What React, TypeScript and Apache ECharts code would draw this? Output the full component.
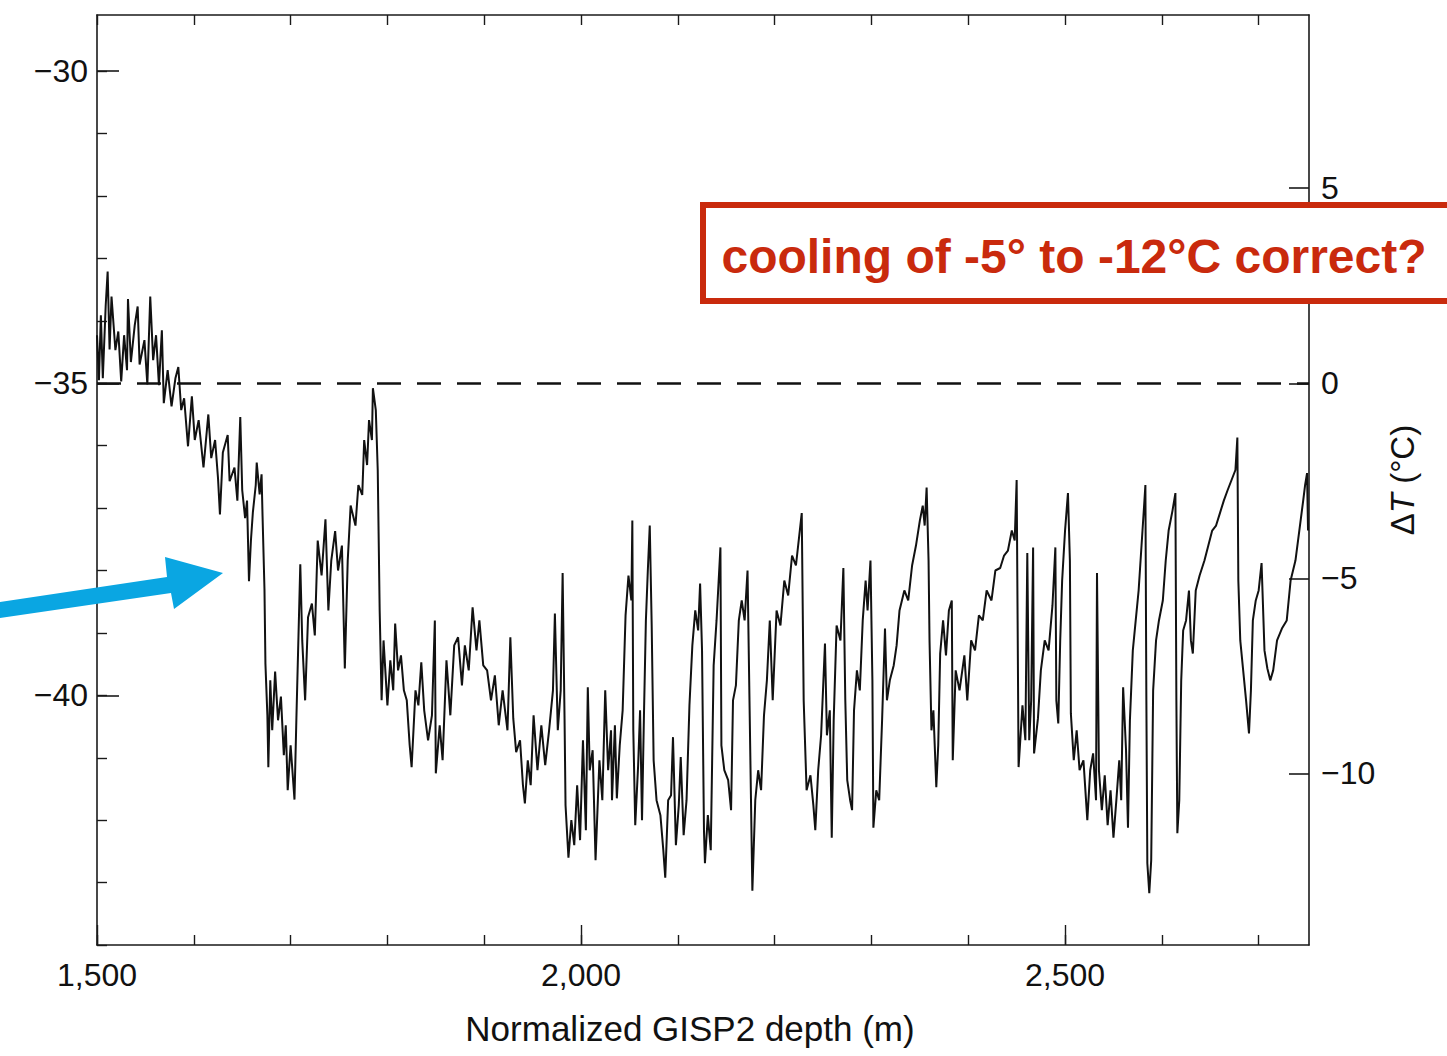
import React, { useEffect, useRef } from "react";
import * as echarts from "echarts";

// Normalized GISP2 depth (m)
const depth = [
  1500, 1502, 1504, 1506, 1509, 1511, 1513, 1515, 1519, 1522, 1525, 1528, 1531, 1532, 1535, 1539, 1542, 1544, 1549, 1552,
  1555, 1558, 1561, 1564, 1567, 1569, 1573, 1577, 1581, 1584, 1587, 1590, 1594, 1598, 1601, 1605, 1610, 1615, 1618, 1622,
  1625, 1627, 1630, 1635, 1637, 1642, 1645, 1648, 1650, 1653, 1655, 1657, 1659, 1661, 1664, 1665, 1668, 1670, 1671, 1673,
  1674, 1676, 1677, 1679, 1681, 1684, 1687, 1690, 1693, 1695, 1697, 1700, 1704, 1706, 1710, 1712, 1715, 1718, 1722, 1725,
  1728, 1732, 1736, 1739, 1742, 1746, 1749, 1753, 1756, 1759, 1762, 1767, 1770, 1774, 1776, 1779, 1781, 1784, 1785, 1788,
  1790, 1792, 1794, 1796, 1800, 1803, 1806, 1808, 1811, 1814, 1817, 1820, 1823, 1825, 1829, 1832, 1835, 1838, 1842, 1846,
  1849, 1850, 1854, 1857, 1861, 1865, 1869, 1873, 1877, 1880, 1884, 1888, 1892, 1895, 1899, 1903, 1907, 1911, 1915, 1919,
  1924, 1927, 1930, 1933, 1937, 1940, 1942, 1945, 1948, 1951, 1955, 1959, 1963, 1967, 1971, 1973, 1976, 1979, 1981, 1983,
  1984, 1987, 1990, 1993, 1996, 1999, 2002, 2005, 2007, 2009, 2012, 2015, 2019, 2022, 2025, 2028, 2031, 2032, 2035, 2037,
  2040, 2043, 2046, 2049, 2052, 2053, 2054, 2056, 2059, 2061, 2063, 2065, 2067, 2069, 2071, 2073, 2075, 2078, 2082, 2085,
  2087, 2090, 2093, 2095, 2098, 2101, 2103, 2106, 2109, 2112, 2115, 2118, 2121, 2123, 2125, 2127, 2128, 2131, 2134, 2137,
  2140, 2144, 2145, 2148, 2152, 2155, 2157, 2160, 2163, 2166, 2169, 2172, 2175, 2177, 2180, 2183, 2186, 2189, 2192, 2195,
  2198, 2202, 2206, 2210, 2214, 2218, 2222, 2226, 2228, 2230, 2233, 2237, 2240, 2242, 2245, 2248, 2252, 2254, 2257, 2259,
  2261, 2264, 2268, 2271, 2273, 2275, 2278, 2280, 2282, 2285, 2288, 2291, 2294, 2296, 2299, 2301, 2302, 2305, 2308, 2311,
  2314, 2316, 2319, 2323, 2326, 2329, 2334, 2338, 2342, 2346, 2350, 2353, 2355, 2357, 2359, 2360, 2362, 2364, 2367, 2369,
  2371, 2374, 2377, 2380, 2383, 2384, 2387, 2391, 2396, 2399, 2403, 2407, 2411, 2415, 2419, 2424, 2428, 2433, 2437, 2441,
  2445, 2448, 2450, 2451, 2452, 2456, 2459, 2461, 2463, 2465, 2467, 2468, 2472, 2475, 2479, 2483, 2487, 2490, 2491, 2493,
  2495, 2497, 2500, 2503, 2505, 2506, 2509, 2512, 2515, 2519, 2523, 2526, 2529, 2532, 2533, 2535, 2538, 2541, 2544, 2547,
  2550, 2553, 2556, 2558, 2560, 2563, 2565, 2567, 2570, 2573, 2576, 2580, 2582, 2583, 2584, 2585, 2587, 2589, 2591, 2594,
  2597, 2601, 2604, 2607, 2611, 2614, 2615, 2616, 2618, 2620, 2622, 2625, 2628, 2630, 2632, 2635, 2639, 2644, 2648, 2652,
  2656, 2660, 2664, 2668, 2672, 2676, 2678, 2679, 2681, 2684, 2687, 2690, 2692, 2694, 2697, 2700, 2703, 2706, 2709, 2712,
  2715, 2719, 2724, 2729, 2733, 2738, 2742, 2746, 2748, 2750, 2751,
];

// delta 18O (per mil)
const d18O = [
  -34.23, -34.95, -33.91, -34.92, -33.75, -33.21, -34.46, -33.61, -34.47, -34.17, -34.97, -34.23, -34.79, -33.65, -34.66, -34.07, -33.77, -34.70, -34.31, -35.02,
  -33.61, -34.63, -34.23, -35.03, -34.15, -35.32, -34.79, -35.37, -34.92, -34.74, -35.43, -35.24, -36.01, -35.21, -35.91, -35.59, -36.35, -35.50, -36.20, -35.91,
  -36.52, -37.10, -36.11, -35.83, -36.57, -36.35, -36.88, -35.54, -36.71, -37.16, -36.88, -38.17, -37.52, -37.07, -36.63, -36.27, -36.78, -36.46, -37.12, -38.30,
  -39.50, -40.32, -41.15, -39.76, -40.56, -39.62, -40.40, -40.02, -40.96, -40.48, -41.52, -40.80, -41.67, -40.35, -37.90, -39.12, -40.08, -38.75, -38.53, -39.04,
  -37.52, -38.08, -37.18, -38.64, -37.84, -37.37, -38.00, -37.60, -39.57, -37.84, -36.96, -37.28, -36.63, -36.79, -35.91, -36.31, -35.59, -35.91, -35.08, -35.43,
  -36.39, -38.64, -40.08, -39.12, -40.16, -39.44, -39.92, -38.85, -39.60, -39.36, -39.92, -40.08, -40.80, -41.15, -39.92, -40.16, -39.47, -40.24, -40.72, -40.32,
  -38.80, -41.25, -40.48, -41.04, -39.44, -40.32, -39.20, -39.07, -39.84, -39.20, -39.60, -38.59, -39.28, -38.80, -39.52, -39.60, -40.08, -39.68, -40.48, -39.92,
  -40.56, -39.07, -40.37, -40.91, -40.72, -41.44, -41.73, -41.04, -41.44, -40.32, -41.20, -40.48, -41.12, -40.56, -39.92, -38.69, -40.56, -39.92, -38.04, -40.40,
  -41.76, -42.60, -42.00, -42.40, -41.44, -42.32, -40.72, -42.16, -39.87, -41.20, -40.88, -42.64, -41.04, -41.68, -39.92, -41.20, -40.56, -41.68, -40.48, -41.65,
  -40.80, -40.24, -38.72, -38.08, -38.48, -37.20, -40.56, -42.08, -41.12, -40.24, -42.00, -40.32, -38.80, -38.00, -37.28, -38.88, -41.04, -41.68, -41.92, -42.48,
  -42.92, -41.68, -41.60, -40.67, -42.40, -41.76, -40.99, -42.24, -41.68, -40.16, -39.20, -38.64, -38.96, -38.21, -39.28, -42.16, -42.69, -41.92, -42.48, -39.52,
  -38.80, -37.63, -40.80, -41.20, -41.36, -41.84, -40.08, -39.84, -38.80, -38.48, -38.80, -38.00, -41.09, -43.13, -41.68, -41.20, -41.52, -40.32, -39.76, -38.80,
  -40.08, -38.64, -38.88, -38.16, -38.40, -37.76, -37.92, -37.36, -37.08, -40.08, -41.52, -41.28, -41.76, -42.16, -41.20, -40.64, -39.17, -40.64, -40.24, -42.28,
  -40.40, -38.88, -39.12, -37.96, -40.08, -41.36, -41.68, -41.84, -40.24, -39.60, -39.92, -38.80, -38.16, -38.64, -37.84, -39.76, -42.12, -41.52, -41.68, -40.40,
  -38.93, -40.08, -39.76, -39.52, -39.20, -38.64, -38.32, -38.48, -37.92, -37.60, -37.20, -36.96, -37.28, -36.67, -37.84, -39.12, -40.56, -40.24, -41.47, -40.80,
  -39.33, -38.80, -39.36, -38.64, -38.48, -41.04, -39.60, -39.92, -39.36, -40.08, -39.12, -39.28, -38.72, -38.80, -38.32, -38.48, -38.00, -37.96, -37.76, -37.68,
  -37.36, -37.52, -36.55, -38.80, -41.15, -40.16, -40.72, -37.72, -40.72, -40.08, -37.63, -40.93, -40.37, -39.60, -39.12, -39.28, -38.56, -37.63, -40.08, -40.45,
  -39.12, -38.16, -37.36, -36.76, -37.84, -40.29, -41.04, -40.56, -41.20, -41.04, -42.00, -41.20, -40.93, -41.68, -38.04, -41.20, -41.84, -41.28, -42.08, -41.52,
  -42.28, -41.68, -41.04, -41.68, -39.87, -40.88, -42.12, -40.40, -39.28, -38.80, -38.32, -37.36, -36.88, -36.63, -40.08, -42.69, -43.17, -42.64, -39.92, -39.12,
  -38.80, -38.48, -37.84, -37.36, -37.04, -36.76, -40.08, -42.21, -41.68, -39.76, -38.96, -38.80, -38.32, -39.12, -39.33, -38.32, -38.08, -37.84, -37.60, -37.36,
  -37.28, -37.08, -36.88, -36.71, -36.55, -36.39, -35.87, -38.16, -39.12, -39.60, -40.08, -40.61, -39.92, -38.80, -38.48, -38.32, -37.88, -39.28, -39.57, -39.76,
  -39.60, -39.12, -38.93, -38.80, -38.16, -37.84, -37.36, -36.88, -36.63, -36.44, -37.36,
];

const leftMajorTicks = [-30, -35, -40];
const leftMinorTicks = [-44, -43, -42, -41, -40, -39, -38, -37, -36, -35, -34, -33, -32, -31, -30];
const rightTicks = [5, 0, -5, -10];
const xMinorTicks = [1500, 1600, 1700, 1800, 1900, 2000, 2100, 2200, 2300, 2400, 2500, 2600, 2700];
const xMajorTicks = [1500, 2000, 2500];
const zeroLine = -35;

const FONT = "'Liberation Sans', Arial, Helvetica, sans-serif";
const RED = "#c92a0d";
const BLUE = "#0aa6e2";
const AXIS = "#1a1a1a";

const minusFmt = (v: number) => (v < 0 ? "\u2212" + Math.abs(v) : String(v));

export default function App() {
  const ref = useRef<HTMLDivElement>(null);

  useEffect(() => {
    if (!ref.current) return;
    const chart = echarts.init(ref.current, undefined, { renderer: "svg" });
    const seriesData = depth.map((d, i) => [d, d18O[i]]);

    const xBase = { type: "value", min: 1500, max: 2752, gridIndex: 0 } as any;
    const yBase = { type: "value", min: -44, max: -29.1, gridIndex: 0 } as any;

    chart.setOption({
      animation: false,
      backgroundColor: "#ffffff",
      grid: { left: 97, right: 138, top: 15, bottom: 111, containLabel: false },
      xAxis: [
        {
          ...xBase,
          position: "bottom",
          axisLine: { show: true, onZero: false, lineStyle: { color: AXIS, width: 1.6 } },
          axisTick: { show: true, inside: true, length: 20, customValues: xMajorTicks, lineStyle: { color: AXIS, width: 1.4 } },
          axisLabel: {
            show: true,
            customValues: xMajorTicks,
            margin: 14,
            fontSize: 32,
            fontFamily: FONT,
            color: "#111",
            formatter: (v: number) => v.toLocaleString("en-US"),
          },
          splitLine: { show: false },
          name: "Normalized GISP2 depth (m)",
          nameLocation: "middle",
          nameGap: 66,
          nameTextStyle: { fontSize: 35, fontFamily: FONT, color: "#111", padding: [0, 26, 0, 0] },
        },
        {
          ...xBase,
          position: "bottom",
          axisLine: { show: false, onZero: false },
          axisTick: { show: true, inside: true, length: 10, customValues: xMinorTicks, lineStyle: { color: AXIS, width: 1.4 } },
          axisLabel: { show: false },
          splitLine: { show: false },
        },
        {
          ...xBase,
          position: "top",
          axisLine: { show: true, onZero: false, lineStyle: { color: AXIS, width: 1.6 } },
          axisTick: { show: true, inside: true, length: 10, customValues: xMinorTicks, lineStyle: { color: AXIS, width: 1.4 } },
          axisLabel: { show: false },
          splitLine: { show: false },
        },
      ],
      yAxis: [
        {
          ...yBase,
          position: "left",
          axisLine: { show: true, onZero: false, lineStyle: { color: AXIS, width: 1.6 } },
          axisTick: { show: true, inside: true, length: 10, customValues: leftMinorTicks, lineStyle: { color: AXIS, width: 1.4 } },
          axisLabel: { show: false },
          splitLine: { show: false },
        },
        {
          ...yBase,
          position: "left",
          axisLine: { show: false, onZero: false },
          axisTick: { show: true, inside: true, length: 22, customValues: leftMajorTicks, lineStyle: { color: AXIS, width: 1.6 } },
          axisLabel: {
            show: true,
            customValues: leftMajorTicks,
            margin: 9,
            fontSize: 32,
            fontFamily: FONT,
            color: "#111",
            formatter: minusFmt,
          },
          splitLine: { show: false },
        },
        {
          type: "value",
          gridIndex: 0,
          position: "right",
          min: -14.4,
          max: 9.44,
          axisLine: { show: true, onZero: false, lineStyle: { color: AXIS, width: 1.6 } },
          axisTick: { show: true, inside: true, length: 20, customValues: rightTicks, lineStyle: { color: AXIS, width: 1.6 } },
          axisLabel: {
            show: true,
            customValues: rightTicks,
            margin: 12,
            fontSize: 32,
            fontFamily: FONT,
            color: "#111",
            formatter: minusFmt,
          },
          splitLine: { show: false },
          name: "{d|\u0394}{t|T}{d| (°C)}",
          nameLocation: "middle",
          nameRotate: 90,
          nameGap: 63,
          nameTextStyle: {
            fontSize: 33,
            fontFamily: FONT,
            color: "#111",
            rich: {
              d: { fontSize: 33, fontFamily: FONT, color: "#111" },
              t: { fontSize: 33, fontFamily: FONT, color: "#111", fontStyle: "italic" },
            },
          },
        },
      ],
      series: [
        {
          type: "line",
          xAxisIndex: 0,
          yAxisIndex: 0,
          data: seriesData,
          showSymbol: false,
          symbol: "none",
          lineStyle: { color: "#111", width: 2 },
          z: 3,
          markLine: {
            silent: true,
            symbol: ["none", "none"],
            label: { show: false },
            lineStyle: { color: "#111", width: 2.5, type: [24, 16] },
            data: [{ yAxis: zeroLine }],
          },
        },
      ],
      graphic: [
        {
          type: "rect",
          z: 100,
          shape: { x: 703, y: 205, width: 760, height: 96 },
          style: { fill: "#ffffff", stroke: RED, lineWidth: 6 },
        },
        {
          type: "text",
          z: 101,
          x: 1074,
          y: 256,
          style: {
            text: "cooling of -5° to -12°C correct?",
            fill: RED,
            font: `bold 48px ${FONT}`,
            textAlign: "center",
            textVerticalAlign: "middle",
          },
        },
        {
          type: "polygon",
          z: 100,
          shape: {
            points: [
              [0, 602],
              [167, 577],
              [165, 557],
              [223, 573],
              [174, 609],
              [171, 593],
              [0, 618],
            ],
          },
          style: { fill: BLUE },
        },
      ],
    });

    return () => chart.dispose();
  }, []);

  return (
    <div
      ref={ref}
      style={{ position: "absolute", left: 0, top: 0, width: 1447, height: 1056, background: "#fff" }}
    />
  );
}
